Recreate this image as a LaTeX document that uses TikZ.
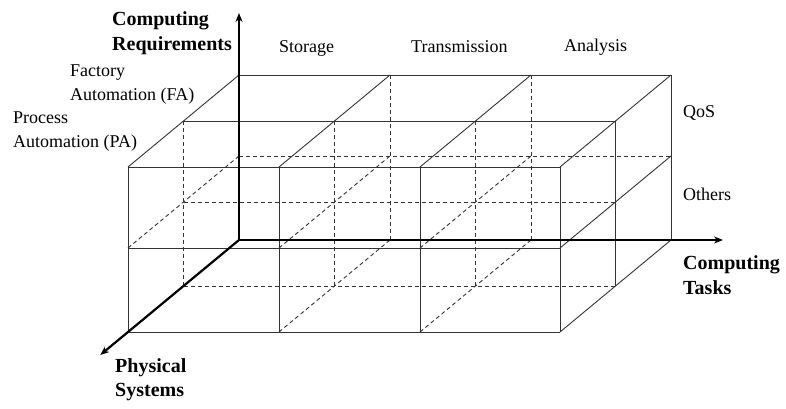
\documentclass[tikz,border=0pt]{standalone}
\usepackage{fontspec}
\setmainfont{Liberation Serif}
\usetikzlibrary{arrows.meta}

\begin{document}
\begin{tikzpicture}[x=1pt,y=1pt,
  grid/.style={line width=0.9pt, draw=black!80},
  hidden/.style={grid, dash pattern=on 4pt off 3pt},
  axis/.style={line width=2.2pt, draw=black, -{Stealth[length=9pt,width=7pt]}},
  lab/.style={font=\fontsize{18}{23.5}\selectfont, inner sep=0pt, align=left},
  axlab/.style={font=\fontsize{20}{24.5}\selectfont\bfseries, inner sep=0pt, align=left}]
\useasboundingbox (0,0) rectangle (786,409);

\begin{scope}[shift={(128,77)}, z={(55.5pt,46pt)}]
  % lattice points p<column><level><depth>
  \foreach \i/\xx in {0/0,1/151,2/292,3/432}
    \foreach \j/\yy in {0/0,1/84,2/165}
      \foreach \k in {0,1,2}
        \coordinate (p\i\j\k) at (\xx,\yy,\k);

  % rows running along the task axis
  \foreach \j/\k in {1/1,1/2,0/1,0/2}
    \draw[hidden] (p0\j\k) -- (p3\j\k);
  \foreach \j/\k in {2/0,2/1,2/2,1/0,0/0}
    \draw[grid] (p0\j\k) -- (p3\j\k);

  % verticals
  \foreach \i/\k in {0/1,1/1,2/1,0/2,1/2,2/2}
    \draw[hidden] (p\i0\k) -- (p\i2\k);
  \foreach \i/\k in {0/0,1/0,2/0,3/0,3/1,3/2}
    \draw[grid] (p\i0\k) -- (p\i2\k);

  % depth lines
  \foreach \i/\j in {0/0,1/0,2/0,0/1,1/1,2/1}
    \draw[hidden] (p\i\j0) -- (p\i\j2);
  \foreach \i/\j in {0/2,1/2,2/2,3/2,3/1,3/0}
    \draw[grid] (p\i\j0) -- (p\i\j2);

  % axes
  \coordinate (origin) at (0,0,2);
  \coordinate (reqtip) at (0,227,2);
  \coordinate (tasktip) at (484,0,2);
  \coordinate (systip) at (0,0,-0.5);
  \draw[axis] (origin) -- (reqtip);
  \draw[axis] (origin) -- (tasktip);
  \draw[axis] (origin) -- (systip);
\end{scope}

% axis titles
\node[axlab, anchor=north west] (req) at (112,397.5) {Computing\\Requirements};
\node[axlab, anchor=north west] (tasks) at (683,153.5) {Computing\\Tasks};
\node[axlab, anchor=north west] (sys) at (115,50.7) {Physical\\Systems};

% category labels
\node[lab, anchor=base west] (storage) at (279,356) {Storage};
\node[lab, anchor=base west] (trans) at (411,356) {Transmission};
\node[lab, anchor=base west] (analysis) at (564,357) {Analysis};
\node[lab, anchor=base west] (qos) at (683,291) {QoS};
\node[lab, anchor=base west] (others) at (683,208) {Others};
\node[lab, anchor=north west] (fa) at (70,344.3) {Factory\\Automation (FA)};
\node[lab, anchor=north west] (pa) at (13,297) {Process\\Automation (PA)};
\end{tikzpicture}
\end{document}
